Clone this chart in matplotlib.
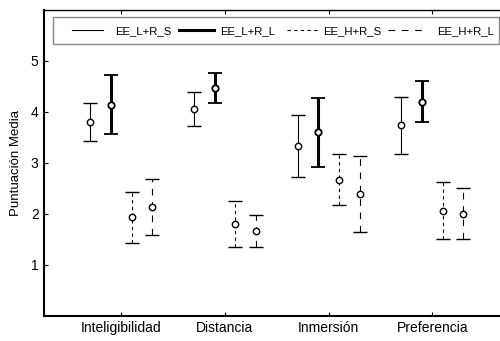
import matplotlib
matplotlib.use("Agg")
import matplotlib.pyplot as plt
from matplotlib.lines import Line2D
from matplotlib.patches import Rectangle
import numpy as np

plt.rcParams['font.family'] = ['Liberation Sans', 'DejaVu Sans']

categories = ["Inteligibilidad", "Distancia", "Inmersión", "Preferencia"]
series = ["EE_L+R_S", "EE_L+R_L", "EE_H+R_S", "EE_H+R_L"]

mean_LS = [3.80, 4.06, 3.33, 3.74]
err_LS = [0.37, 0.34, 0.60, 0.56]
mean_LL = [4.14, 4.47, 3.60, 4.20]
err_LL = [0.58, 0.29, 0.68, 0.40]
mean_HS = [1.93, 1.80, 2.67, 2.06]
err_HS = [0.50, 0.45, 0.50, 0.56]
mean_HL = [2.13, 1.66, 2.39, 2.00]
err_HL = [0.55, 0.31, 0.75, 0.50]

yticks = [1, 2, 3, 4, 5]

means = [mean_LS, mean_LL, mean_HS, mean_HL]
errs = [err_LS, err_LL, err_HS, err_HL]
offsets = [-0.3, -0.1, 0.1, 0.3]
lws = [0.8, 2.2, 0.8, 0.8]
dashes = [None, None, (0, (3, 3)), (0, (6, 6))]

W, H = 500, 341
fig = plt.figure(figsize=(W / 100, H / 100), dpi=100)
ax = fig.add_axes([43.5 / W, 1 - 315.7 / H, 466.6 / W, 305.7 / H])

x = np.arange(1, len(categories) + 1)
handles = []
for m, e, off, lw, ds, name in zip(means, errs, offsets, lws, dashes, series):
    eb = ax.errorbar(x + off, m, yerr=e, fmt='o', color='black', ecolor='black',
                     elinewidth=lw, capsize=5, capthick=1.6 if lw > 1 else 1.0,
                     markersize=4.6, markerfacecolor='white', markeredgecolor='black',
                     markeredgewidth=1.3 if lw > 1 else 1.0)
    if ds is not None:
        eb[2][0].set_linestyle(ds)
    h = Line2D([], [], color='black', lw=lw, linestyle=ds if ds is not None else '-')
    handles.append(h)

ax.set_xlim(0.25, 4.75)
ax.set_ylim(0, 6)
ax.set_xticks(x)
ax.set_xticklabels(categories, fontsize=10)
ax.set_yticks(yticks)
ax.set_yticklabels([str(t) for t in yticks], fontsize=10)
ax.tick_params(direction='in', length=3, top=True, right=True, width=0.8)
ax.set_ylabel("Puntuación Media", fontsize=9.5, labelpad=6)
for s in ['left', 'bottom']:
    ax.spines[s].set_linewidth(1.5)
for s in ['top', 'right']:
    ax.spines[s].set_linewidth(1.0)

# legend frame
fig.patches.append(Rectangle((53 / W, 1 - 44.3 / H), 446 / W, 27 / H,
                             transform=fig.transFigure, facecolor='white',
                             edgecolor='#888888', linewidth=1.0, zorder=5))
# one legend entry per series, placed along the frame
entry_left = [72, 179, 287, 388]
entry_hlen = [2.72, 3.07, 2.63, 3.51]
entry_pad = [1.05, 0.53, 0.53, 0.79]
for h, name, xl, hl, pad in zip(handles, series, entry_left, entry_hlen, entry_pad):
    lg = fig.legend([h], [name], loc='center left',
                    bbox_to_anchor=(xl / W, 1 - 30.8 / H),
                    fontsize=8.2, frameon=False, handlelength=hl,
                    handletextpad=pad, borderaxespad=0.0, borderpad=0.0)
    lg.set_zorder(6)

fig.savefig("out.png", dpi=100)
